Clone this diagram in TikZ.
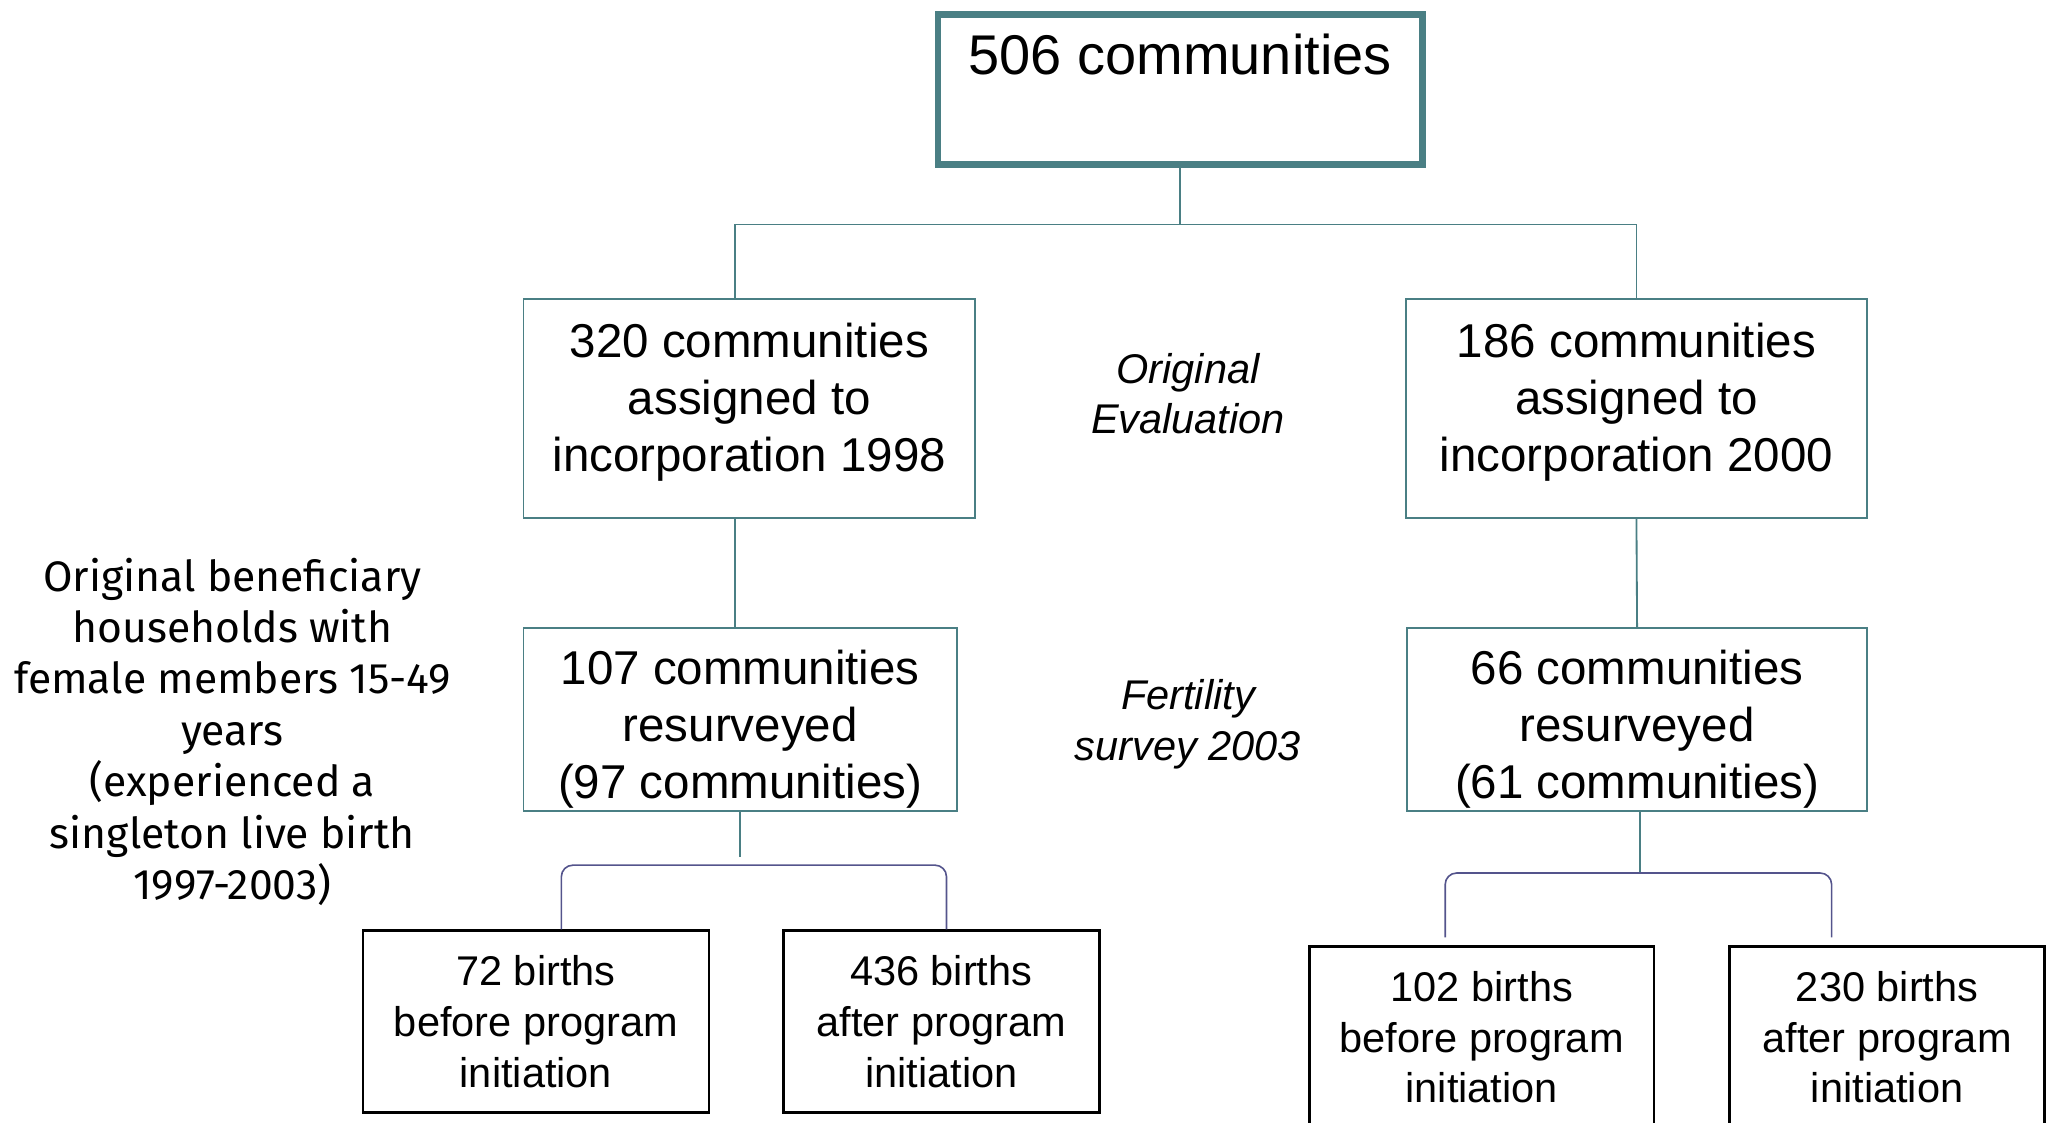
\documentclass[tikz,border=0pt]{standalone}
\usepackage{fontspec}
\setmainfont{Liberation Sans}
\newfontfamily\levyfont{Fira Sans}
\definecolor{tyrkys}{RGB}{74,127,132}
\definecolor{fialova}{RGB}{84,84,140}

\begin{document}
\begin{tikzpicture}[
    krabice/.style={draw=tyrkys, line width=0.8pt, align=center, inner sep=0pt,
      minimum height=3.36cm, text depth=10.1pt, font=\fontsize{20.7}{24.9}\selectfont},
    pruzkum/.style={krabice, minimum height=2.8cm, text depth=, text height=73.4pt},
    porod/.style={draw=black, line width=1.2pt, align=center, inner sep=0pt,
      minimum height=2.78cm, font=\fontsize{18.1}{22.1}\selectfont},
    popis/.style={align=center, font=\itshape\fontsize{18.1}{22.1}\selectfont},
    spoj/.style={draw=tyrkys, line width=0.8pt},
    zavorka/.style={draw=fialova, line width=0.7pt, rounded corners=5pt}]
  % Rozmery platna
  \useasboundingbox (0,0) rectangle (31.36,-17.2);

  % Horni krabice
  \node[draw=tyrkys, line width=2.8pt, inner sep=0pt, minimum width=7.42cm,
    text height=0.92cm, text depth=1.38cm, anchor=north,
    font=\fontsize{24.4}{29}\selectfont] (vse) at (18.08,-0.17) {506 communities};

  % Puvodni hodnoceni
  \node[krabice, minimum width=6.92cm] (r98) at (11.48,-6.26)
    {320 communities\\assigned to\\incorporation 1998};
  \node[krabice, minimum width=7.06cm] (r00) at (25.07,-6.26)
    {186 communities\\assigned to\\incorporation 2000};
  \node[popis] (puvodni) at (18.2,-6.03) {Original\\Evaluation};

  % Pruzkum plodnosti
  \node[pruzkum, minimum width=6.64cm] (p107) at (11.34,-11.02)
    {107 communities\\resurveyed\\(97 communities)};
  \node[pruzkum, minimum width=7.04cm] (p66) at (25.08,-11.02)
    {66 communities\\resurveyed\\(61 communities)};
  \node[popis] (plodnost) at (18.2,-11.1) {Fertility\\survey 2003};

  % Popisek vlevo
  \node[align=center, font=\levyfont\fontsize{18.6}{22.4}\selectfont] (domacnosti)
    at (3.56,-11.21) {Original beneficiary\\households with\\female members 15-49\\years\\(experienced a\\singleton live birth\\1997-2003)};

  % Porody
  \node[porod, minimum width=5.3cm] (p72) at (8.21,-15.65)
    {72 births\\before program\\initiation};
  \node[porod, minimum width=4.84cm] (p436) at (14.42,-15.65)
    {436 births\\after program\\initiation};
  \node[porod, minimum width=5.28cm] (p102) at (22.7,-15.89)
    {102 births\\before program\\initiation};
  \node[porod, minimum width=4.82cm] (p230) at (28.91,-15.89)
    {230 births\\after program\\initiation};

  % Spojnice
  \coordinate (rozdel) at (18.08,-3.44);
  \draw[spoj] (vse.south) -- (rozdel);
  \draw[spoj] ([xshift=-0.22cm]r98.north) |- (rozdel) -| (r00.north);
  \draw[spoj] ([xshift=-0.22cm]r98.south) -- ([xshift=-0.08cm]p107.north);
  \draw[spoj] (r00.south) -- (p66.north);
  \coordinate (konecL) at ([yshift=-0.7cm]p107.south);
  \coordinate (konecP) at ([xshift=0.04cm,yshift=-0.92cm]p66.south);
  \draw[spoj] (p107.south) -- (konecL);
  \draw[spoj] ([xshift=0.04cm]p66.south) -- (konecP);

  % Zavorky
  \draw[zavorka] ([xshift=0.39cm]p72.north) |- ([yshift=-0.12cm]konecL)
    -| ([xshift=0.08cm]p436.north);
  \draw[zavorka] ([xshift=-0.56cm,yshift=0.12cm]p102.north) |- ([yshift=-0.02cm]konecP)
    -| ([xshift=-0.85cm,yshift=0.12cm]p230.north);
\end{tikzpicture}
\end{document}
